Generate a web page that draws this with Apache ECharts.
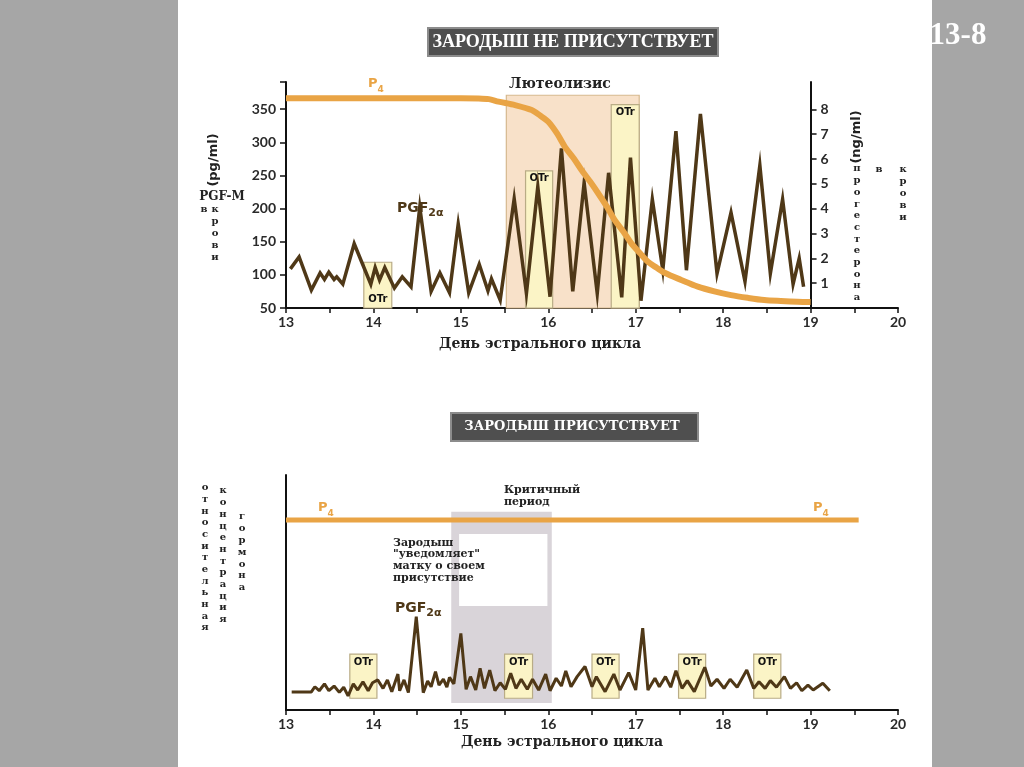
<!DOCTYPE html>
<html><head><meta charset="utf-8">
<script src="https://cdn.jsdelivr.net/npm/echarts@6/dist/echarts.min.js"></script>
<style>
html,body{margin:0;padding:0;background:#a6a6a6;}
#panel{position:absolute;left:178px;top:0;width:754px;height:767px;background:#fff;}
#c{position:absolute;left:0;top:0;width:1024px;height:767px;}
</style>
</head><body><div id="panel"></div><div id="c"></div>
<script>
// ---------- data ----------
const dayLabels = ['13','14','15','16','17','18','19','20'];
const leftTickLabels = ['50','100','150','200','250','300','350'];
const rightTickLabels = ['1','2','3','4','5','6','7','8'];

// top chart: PGF2a (pg/ml, left axis)
const topPgfDays = [13.05,13.15,13.29,13.39,13.44,13.49,13.55,13.58,13.65,13.78,13.97,14.02,14.07,14.13,14.24,14.33,14.43,14.53,14.66,14.76,14.87,14.97,15.09,15.21,15.31,15.35,15.45,15.61,15.75,15.88,16.02,16.15,16.28,16.41,16.56,16.69,16.84,16.94,17.06,17.19,17.31,17.46,17.58,17.74,17.93,18.09,18.25,18.42,18.54,18.68,18.80,18.87,18.92];
const topPgfValues = [109,127,77,103,93,104,93,97,86,147,86,111,92,111,80,97,82,202,75,103,73,177,73,116,76,94,62,215,72,233,67,291,75,239,72,254,66,277,61,214,107,317,107,343,102,194,90,265,102,214,86,125,82];

// top chart: P4 (ng/ml, right axis)
const topP4Days = [13.0,14.0,15.0,15.2,15.32,15.43,15.62,15.81,15.91,16.0,16.10,16.19,16.29,16.38,16.48,16.57,16.67,16.76,16.86,16.95,17.05,17.14,17.24,17.33,17.52,17.71,17.90,18.09,18.28,18.47,18.66,18.85,19.0];
const topP4Values = [8.45,8.45,8.45,8.44,8.41,8.31,8.17,7.97,7.74,7.5,7.03,6.49,6.03,5.56,5.08,4.62,4.08,3.54,3.07,2.6,2.2,1.86,1.62,1.42,1.13,0.86,0.67,0.52,0.41,0.32,0.28,0.25,0.24];

// top chart boxes: [startDay, endDay, bottom, top] in pg/ml
const luteolysisBox = [15.52, 17.04, 50, 371];
const topOtrStart = [13.89, 15.74, 16.72];
const topOtrEnd = [14.21, 16.05, 17.04];
const topOtrTop = [119, 257, 357];
const topOtrLabelPos = ['bottom', 'top', 'top'];

// bottom chart: PGF2a (relative)
const botPgfDays = [13.065,13.29,13.33,13.38,13.44,13.49,13.55,13.61,13.66,13.71,
13.77,13.82,13.88,13.94,13.99,14.05,14.11,14.16,14.21,14.28,
14.30,14.35,14.40,14.49,14.57,14.62,14.66,14.71,14.75,14.80,
14.84,14.87,14.92,15.00,15.06,15.11,15.17,15.22,15.27,15.33,
15.39,15.45,15.51,15.57,15.63,15.69,15.76,15.82,15.89,15.97,
16.02,16.09,16.15,16.20,16.26,16.33,16.42,16.50,16.55,16.65,
16.75,16.82,16.92,17.00,17.08,17.14,17.22,17.27,17.34,17.40,
17.46,17.53,17.59,17.67,17.79,17.86,17.93,18.01,18.08,18.16,
18.27,18.35,18.41,18.48,18.54,18.61,18.70,18.77,18.84,18.90,
18.97,19.03,19.14,19.22];
const botPgfValues = [7.7,7.7,9.9,8.2,11.1,8.2,10.2,7.5,9.7,6.0,
11.1,8.5,12.0,8.2,11.6,12.8,9.2,12.8,7.8,15.3,
8.2,12.8,7.4,39.7,7.4,12.3,9.9,16.3,10.6,13.1,
9.7,13.9,11.1,32.6,8.8,14.2,8.5,17.7,9.2,17.0,
8.2,11.6,8.8,15.6,9.2,13.1,8.8,13.1,8.5,15.3,
8.2,13.5,10.2,16.6,9.9,14.2,18.5,9.9,14.2,7.8,
15.3,8.5,15.9,8.5,34.8,8.5,13.5,9.9,14.2,9.7,
16.7,9.2,12.5,7.8,18.2,10.2,13.1,9.2,13.1,9.7,
17.0,9.2,12.0,9.2,12.5,9.7,14.2,9.2,11.6,8.2,
10.6,8.5,11.4,8.2];

// bottom chart: P4 flat
const botP4Days = [13.0, 19.55];
const botP4Values = [80.9, 80.9];

// bottom boxes
const criticalBox = [14.89, 16.04, 3.0, 84.4];
const noteBox = [14.98, 15.99, 44.3, 74.9];
const botOtrStart = [13.73, 15.50, 16.50, 17.49, 18.35];
const botOtrEnd = [14.04, 15.82, 16.81, 17.80, 18.66];
const botOtrBottom = 5.0;
const botOtrTop = 23.8;

// ---------- style ----------
const ORANGE = '#E9A445';
const BROWN = '#4F3817';
const AXIS = '#111';
const LABELFONT = 'Lato';
const SERIF = '"DejaVu Serif"';

const boxStyles = {
  lute: {fill:'#F8E1C9', stroke:'#D6B98F', lineWidth:1.2},
  otr: {fill:'#FBF4C6', stroke:'#B9AC86', lineWidth:1.2},
  crit: {fill:'#D9D4D9', stroke:'#D9D4D9', lineWidth:0},
  note: {fill:'#FFFFFF', stroke:'#FFFFFF', lineWidth:0}
};

function pairs(xs, ys){ return xs.map((x,i)=>[x, ys[i]]); }

// box data rows: [x0, x1, yBottom, yTop, styleKey, labelPos]
const topBoxData = [[luteolysisBox[0], luteolysisBox[1], luteolysisBox[2], luteolysisBox[3], 'lute', 'none']]
  .concat(topOtrStart.map((s,i)=>[s, topOtrEnd[i], 50, topOtrTop[i], 'otr', topOtrLabelPos[i]]));
const botBoxData = [[criticalBox[0], criticalBox[1], criticalBox[2], criticalBox[3], 'crit', 'none'],
  [noteBox[0], noteBox[1], noteBox[2], noteBox[3], 'note', 'none']]
  .concat(botOtrStart.map((s,i)=>[s, botOtrEnd[i], botOtrBottom, botOtrTop, 'otr', 'top']));

function renderBox(params, api){
  const x0 = api.value(0), x1 = api.value(1), y0 = api.value(2), y1 = api.value(3);
  const key = api.value(4), lp = api.value(5);
  const p0 = api.coord([x0, y1]);
  const p1 = api.coord([x1, y0]);
  const st = boxStyles[key];
  const children = [{type:'rect', shape:{x:p0[0], y:p0[1], width:p1[0]-p0[0], height:p1[1]-p0[1]},
    style:{fill:st.fill, stroke:st.lineWidth?st.stroke:null, lineWidth:st.lineWidth}}];
  if (lp === 'top' || lp === 'bottom') {
    children.push({type:'text', x:(p0[0]+p1[0])/2, y: lp==='top' ? p0[1]+8 : p1[1]-9,
      style:{text:'OTr', font:'bold 10px "DejaVu Sans"', fill:'#111', align:'center', verticalAlign:'middle'}});
  }
  return {type:'group', children};
}

const xAxisCommon = {
  type:'value', min:13, max:20, interval:0.5,
  axisLine:{onZero:false, lineStyle:{color:AXIS, width:2}},
  axisTick:{length:5, lineStyle:{color:AXIS, width:1.5}},
  axisLabel:{margin:7, fontFamily:LABELFONT, fontWeight:'bold', fontSize:14, color:'#2a2a2a',
    formatter: v => { const i = Math.round(v) - 13; return Math.abs(v - Math.round(v)) < 1e-6 ? dayLabels[i] : ''; }},
  splitLine:{show:false}
};

const chart = echarts.init(document.getElementById('c'), null, {renderer:'canvas'});

function vtext(letters, x, y, lh, size){
  return {type:'text', x:x, y:y, style:{text: letters.split('').join('\n'), font:'bold '+size+'px '+SERIF,
    fill:'#222', align:'center', verticalAlign:'top', lineHeight:lh}};
}
function subLabel(x, y, main, sub, color, size, subSize, lh){
  return {type:'text', x:x, y:y, style:{text:'{a|'+main+'}{s|'+sub+'}', align:'left', verticalAlign:'middle', fill:color,
    rich:{a:{fontFamily:'DejaVu Sans', fontWeight:'bold', fontSize:size, fill:color, color:color, lineHeight:lh},
          s:{fontFamily:'DejaVu Sans', fontWeight:'bold', fontSize:subSize, fill:color, color:color, verticalAlign:'bottom', lineHeight:lh}}}};
}

const graphics = [
  {type:'text', x:958, y:36, style:{text:'13-8', font:'bold 31px "Liberation Serif"', fill:'#fff', align:'center', verticalAlign:'middle'}},
  // titles
  {type:'rect', shape:{x:428, y:28, width:290, height:28}, style:{fill:'#4F4F4F', stroke:'#8C8C8C', lineWidth:2}},
  {type:'text', x:573, y:42, style:{text:'ЗАРОДЫШ НЕ ПРИСУТСТВУЕТ', font:'bold 18px "Liberation Serif"', fill:'#fff', align:'center', verticalAlign:'middle'}},
  {type:'rect', shape:{x:451, y:413, width:247, height:28}, style:{fill:'#4F4F4F', stroke:'#8C8C8C', lineWidth:2}},
  {type:'text', x:572, y:427, style:{text:'ЗАРОДЫШ ПРИСУТСТВУЕТ', font:'bold 13px '+SERIF, fill:'#fff', align:'center', verticalAlign:'middle'}},
  // top labels
  {type:'text', x:560, y:84, style:{text:'Лютеолизис', font:'bold 14px '+SERIF, fill:'#222', align:'center', verticalAlign:'middle'}},
  subLabel(368, 84, 'P', '4', ORANGE, 13, 9, 20),
  subLabel(397, 208, 'PGF', '2α', BROWN, 14, 11, 22),
  {type:'text', x:214, y:160, rotation:Math.PI/2, style:{text:'(pg/ml)', font:'bold 13px "DejaVu Sans"', fill:'#222', align:'center', verticalAlign:'middle'}},
  {type:'text', x:222, y:197, style:{text:'PGF-M', font:'bold 12px '+SERIF, fill:'#222', align:'center', verticalAlign:'middle'}},
  vtext('в', 204, 203, 12, 10),
  vtext('крови', 215, 203, 12, 10),
  {type:'text', x:857, y:137, rotation:Math.PI/2, style:{text:'(ng/ml)', font:'bold 13px "DejaVu Sans"', fill:'#222', align:'center', verticalAlign:'middle'}},
  vtext('прогестерона', 857, 163, 11.7, 10),
  vtext('в', 879, 163, 12, 10),
  vtext('крови', 903, 163, 12, 10),
  {type:'text', x:540, y:344, style:{text:'День эстрального цикла', font:'bold 14px '+SERIF, fill:'#222', align:'center', verticalAlign:'middle'}},
  // bottom labels
  vtext('относительная', 205, 482, 11.67, 10),
  vtext('концентрация', 223, 485, 11.7, 10),
  vtext('гормона', 242, 511, 11.8, 10),
  {type:'text', x:504, y:496, style:{text:'Критичный\nпериод', font:'bold 11px '+SERIF, fill:'#222', align:'left', verticalAlign:'middle', lineHeight:12}},
  {type:'text', x:393, y:537, style:{text:'Зародыш\n"уведомляет"\nматку о своем\nприсутствие', font:'bold 11px '+SERIF, fill:'#222', align:'left', verticalAlign:'top', lineHeight:11.7}},
  subLabel(318, 508, 'P', '4', ORANGE, 13, 9, 20),
  subLabel(813, 508, 'P', '4', ORANGE, 13, 9, 20),
  subLabel(395, 608, 'PGF', '2α', BROWN, 14, 11, 22),
  {type:'text', x:562, y:742, style:{text:'День эстрального цикла', font:'bold 14px '+SERIF, fill:'#222', align:'center', verticalAlign:'middle'}}
].map(g => Object.assign({z:100}, g));

const option = {
  animation:false,
  backgroundColor:'transparent',
  grid:[
    {left:286, top:82, width:612, height:226},
    {left:286, top:475, width:612, height:235}
  ],
  xAxis:[
    Object.assign({gridIndex:0}, xAxisCommon),
    Object.assign({gridIndex:1}, xAxisCommon)
  ],
  yAxis:[
    {gridIndex:0, type:'value', position:'left', min:50, max:391, interval:50,
      axisLine:{show:true, onZero:false, lineStyle:{color:AXIS, width:2}},
      axisTick:{show:true, length:6, lineStyle:{color:AXIS, width:1.5}},
      axisLabel:{margin:10, fontFamily:LABELFONT, fontWeight:'bold', fontSize:14, color:'#2a2a2a',
        formatter: v => leftTickLabels[Math.round((v-50)/50)] || ''},
      splitLine:{show:false}},
    {gridIndex:0, type:'value', position:'right', offset:-612/7, min:0, max:9.1, interval:1,
      axisLine:{show:true, onZero:false, lineStyle:{color:AXIS, width:2}},
      axisTick:{show:true, length:6, customValues:[1,2,3,4,5,6,7,8], lineStyle:{color:AXIS, width:1.5}},
      axisLabel:{margin:10, fontFamily:LABELFONT, fontWeight:'bold', fontSize:14, color:'#2a2a2a',
        customValues:[1,2,3,4,5,6,7,8],
        formatter: v => (v >= 1 && v <= 8) ? rightTickLabels[Math.round(v)-1] : ''},
      splitLine:{show:false}},
    {gridIndex:1, type:'value', min:0, max:100,
      axisLine:{show:true, onZero:false, lineStyle:{color:AXIS, width:2}},
      axisTick:{show:false}, axisLabel:{show:false}, splitLine:{show:false}}
  ],
  graphic: graphics,
  series:[
    {type:'custom', xAxisIndex:0, yAxisIndex:0, z:1, renderItem:renderBox, data:topBoxData,
      encode:{x:[0,1], y:[2,3]}, silent:true, clip:false},
    {type:'line', xAxisIndex:0, yAxisIndex:0, z:3, data:pairs(topPgfDays, topPgfValues), showSymbol:false, symbol:'none',
      lineStyle:{color:BROWN, width:3.5, join:'miter'}},
    {type:'line', xAxisIndex:0, yAxisIndex:1, z:4, data:pairs(topP4Days, topP4Values), showSymbol:false, symbol:'none',
      smooth:0.3, lineStyle:{color:ORANGE, width:6}},
    {type:'custom', xAxisIndex:1, yAxisIndex:2, z:1, renderItem:renderBox, data:botBoxData,
      encode:{x:[0,1], y:[2,3]}, silent:true, clip:false},
    {type:'line', xAxisIndex:1, yAxisIndex:2, z:3, data:pairs(botPgfDays, botPgfValues), showSymbol:false, symbol:'none',
      lineStyle:{color:BROWN, width:3}},
    {type:'line', xAxisIndex:1, yAxisIndex:2, z:4, data:pairs(botP4Days, botP4Values), showSymbol:false, symbol:'none',
      lineStyle:{color:ORANGE, width:5}}
  ]
};
chart.setOption(option);
</script>
</body></html>
